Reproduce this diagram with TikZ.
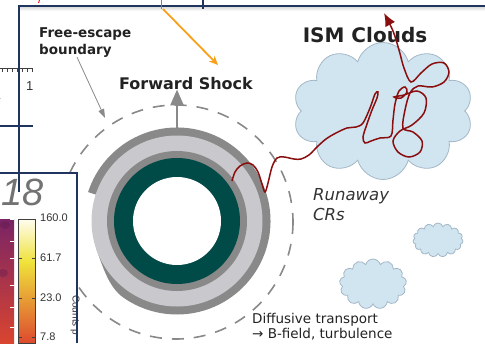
\documentclass[tikz,border=0pt]{standalone}
\usepackage{fontspec}
\setmainfont{DejaVu Sans}
\newfontfamily\plotfont{Liberation Sans}
\usetikzlibrary{arrows.meta,shapes.symbols}

\definecolor{navy}{HTML}{1F3560}
\definecolor{ringlight}{HTML}{C9C9CD}
\definecolor{ringdark}{HTML}{898989}
\definecolor{core}{HTML}{004A47}
\definecolor{crred}{HTML}{8B0E0E}
\definecolor{cloudfill}{HTML}{D0E5F0}
\definecolor{cloudedge}{HTML}{A3B7C6}
\definecolor{ink}{HTML}{222222}
\definecolor{pointer}{HTML}{F7A11A}
\definecolor{cbtop}{HTML}{FFFDF0}
\definecolor{cbmid}{HTML}{EFE23A}
\definecolor{cborange}{HTML}{F29A2E}
\definecolor{cblow}{HTML}{DD4A2E}
\definecolor{maptop}{HTML}{7A2466}
\definecolor{mapmid}{HTML}{BE3446}
\definecolor{maplow}{HTML}{D9452F}

\tikzset{
  navyline/.style={draw=navy, line width=2pt},
  slidetext/.style={text=ink, inner sep=0pt, align=left},
  cloudbox/.style={cloud, draw=cloudedge, fill=cloudfill, line width=0.8pt, inner sep=0pt},
  barlabel/.style={font=\plotfont\fontsize{11}{13}\selectfont, text=black!80,
    anchor=west, inner sep=0pt},
  bartick/.style={black!75, line width=0.6pt},
}

\begin{document}
\begin{tikzpicture}[x=1pt, y=-1pt]
\useasboundingbox (0,0) rectangle (485,343);

% shadow under the slide edge
\shade[top color=gray!30, bottom color=white] (20,6.5) rectangle (485,11);

% ruler strip on the left
\draw[bartick] (0,68) -- (33,68);
\foreach \t in {2,7,...,32}
  \draw[bartick] (\t,68) -- (\t,72);
\node[anchor=north west, inner sep=0pt, font=\plotfont\fontsize{13}{15}\selectfont,
  text=black!80] (rulerone) at (26,81) {1};
\node[anchor=north west, inner sep=0pt, font=\plotfont\fontsize{13}{15}\selectfont,
  text=black!80] (rulerv) at (-6,98) {v};
\draw[navyline] (0,126) -- (33,126);

% remnant: core, shell and shock (outer band open on the left)
\coordinate (c) at (177,221);
\coordinate (front) at (177,128);
\fill[ringdark] (c) ++(-162:93.5) arc[start angle=-162, end angle=125, radius=93.5]
  .. controls (108.7,287.3) and (102.9,266.9) .. (96.7,250) -- (96.2,194.7) -- cycle;
\fill[ringlight] (c) circle[radius=85.5];
\fill[ringdark] (c) circle[radius=70];
\fill[core] (c) circle[radius=63];
\fill[white] (c) circle[radius=44];

% free-escape boundary
\draw[ringdark, line width=1.6pt, dash pattern=on 12pt off 10pt]
  (176,222) circle[radius=117];
\coordinate (edge) at (105,118);

\node[slidetext, font=\bfseries\fontsize{16}{19}\selectfont, anchor=base]
  (shock) at (186,89) {Forward Shock};
\draw[ringdark, line width=2.6pt, -{Triangle[length=16pt, width=13pt]}]
  (front) -- (shock.south -| front);

% clouds
\node[cloudbox, cloud puffs=10, minimum width=180pt, minimum height=137pt]
  (bigcloud) at (383,111) {};
\node[cloudbox, cloud puffs=15, minimum width=50pt, minimum height=34pt]
  (farcloud) at (438,240) {};
\node[cloudbox, cloud puffs=13, minimum width=67pt, minimum height=50pt]
  (nearcloud) at (373,284) {};
\node[slidetext, font=\bfseries\fontsize{20}{24}\selectfont, anchor=base]
  (ism) at (365,42) {ISM Clouds};

% escaping CR track
\draw[crred, line width=1.5pt, -{Latex[length=13pt, width=11pt]}]
  plot[smooth, tension=0.55] coordinates {
    (232,181) (235,172) (240,166) (247,163) (253,165) (258,172) (262,184)
    (265,192) (268,183) (272,167) (277,158) (284,157) (294,159) (301,159)
    (309,155) (317,147) (326,139) (336,133) (347,128) (356,127) (363,123)
    (370,108) (375,94) (378,92) (377,98) (372,110) (367,124) (363,137)
    (365,143) (371,141) (380,138) (391,136) (393,120) (395,104) (399,91)
    (405,87) (407,92) (401,98) (394,97) (404,95) (417,91) (426,98)
    (424,113) (412,125) (400,131) (393,141) (398,152) (409,157) (420,152)
    (422,141) (413,132) (403,128) (405,110) (410,93) (418,86) (432,87)
    (444,82) (449,72) (444,63) (432,64) (421,73) (411,82) (404,68)
    (399,50) (393,31) (384,13)};

% labels
\node[slidetext, font=\bfseries\fontsize{13.5}{17}\selectfont, anchor=north west]
  (escape) at (39,27) {Free-escape\\boundary};
\draw[ringdark, line width=0.8pt, -{Triangle[length=9pt, width=6pt]}]
  ([xshift=38pt]escape.south west) -- (edge);
\node[slidetext, font=\itshape\fontsize{16.5}{20}\selectfont, text=black!80,
  anchor=north west] (runaway) at (313,188) {Runaway\\CRs};
\node[slidetext, font=\fontsize{13.5}{15}\selectfont, anchor=north west]
  (diffusive) at (252,313) {Diffusive transport\\→ B-field, turbulence};

% counts-map panel
\fill[white] (0,173) rectangle (76.5,343);
\shade[top color=maptop, middle color=mapmid, bottom color=maplow]
  (0,219) rectangle (14,343);
\fill[maptop!80!black, opacity=0.5] (5,225) ellipse[x radius=5, y radius=4];
\fill[maptop!80!black, opacity=0.4] (3,273) ellipse[x radius=5, y radius=4];
\foreach \y in {219,241,258,285,307,327}
  \draw[white, line width=0.8pt] (10,\y) -- (14,\y);
\shade[top color=cbtop, bottom color=cbmid] (18,219) rectangle (35,262);
\shade[top color=cbmid, middle color=cborange, bottom color=cblow]
  (18,262) rectangle (35,343);
\draw[bartick] (18,219) rectangle (35,343);
\foreach \y in {258,298,337} {
  \draw[bartick] (18,\y) -- (21.5,\y);
  \draw[bartick] (31.5,\y) -- (35,\y);
}
\foreach \v/\y in {160.0/218, 61.7/258, 23.0/298, 7.8/337}
  \node[barlabel] (bar\y) at (40,\y) {\v};
\node[barlabel, rotate=-90, font=\plotfont\fontsize{10}{12}\selectfont]
  (counts) at (75,295) {Counts p};
\node[anchor=base west, inner sep=0pt, text=black!55,
  font=\plotfont\itshape\fontsize{38}{40}\selectfont] (panelno) at (1,205) {18};

% slide frame and pointer
\draw[navyline] (0,173) -- (76.5,173) -- (76.5,343);
\draw[navyline] (19,192) -- (19,5.5) -- (485,5.5);
\draw[navyline] (203,0) -- (203,9);
\draw[gray, line width=1pt] (161,0) -- (161,9);
\draw[red, line width=0.8pt] (39.5,0) -- (38.5,3);
\coordinate (ptrA) at (163,9);
\coordinate (ptrB) at (218,65);
\draw[pointer, line width=1.8pt, -{Stealth[length=9pt, width=8pt]}] (ptrA) -- (ptrB);

\end{tikzpicture}
\end{document}
